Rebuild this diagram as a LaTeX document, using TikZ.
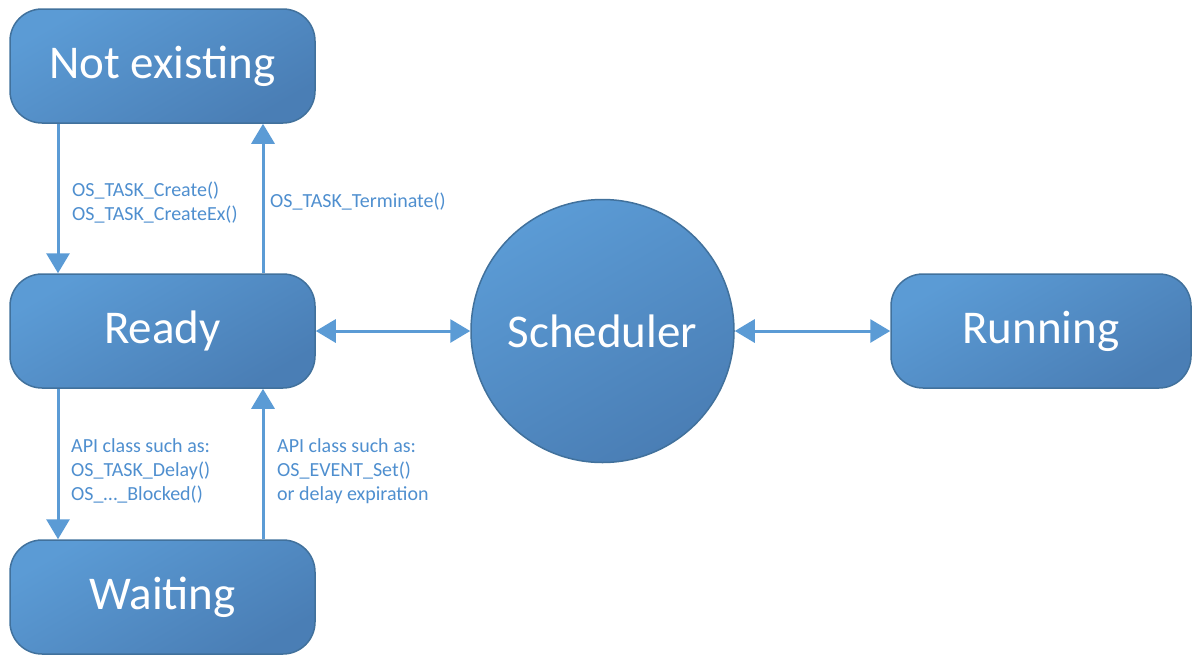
\documentclass[tikz,border=0pt]{standalone}
\usepackage{fontspec}
\setmainfont{Carlito}
\usetikzlibrary{arrows.meta}
\definecolor{boxtop}{HTML}{5B9BD5}
\definecolor{boxbot}{HTML}{4A7EB5}
\definecolor{boxline}{HTML}{41719C}
\definecolor{arrowblue}{HTML}{5B9BD5}
\definecolor{labelblue}{HTML}{4F8FCF}
\begin{document}
\begin{tikzpicture}[x=1pt,y=-1pt,
    state/.style={draw=boxline,line width=1.5pt,rounded corners=32pt,top color=boxtop,bottom color=boxbot,shading angle=30,
      minimum width=305pt,minimum height=114pt,text=white,font=\fontsize{47}{56}\selectfont},
    sched/.style={circle,draw=boxline,line width=1.5pt,top color=boxtop,bottom color=boxbot,shading angle=30,
      minimum size=263pt,inner sep=0pt,text=white,font=\fontsize{47}{56}\selectfont},
    trans/.style={line width=3pt,arrowblue,-{Triangle[width=23pt,length=20pt]}},
    twoway/.style={line width=3pt,arrowblue,{Triangle[width=23pt,length=20pt]}-{Triangle[width=23pt,length=20pt]}},
    lbl/.style={anchor=west,align=left,inner sep=0pt,text=labelblue,font=\fontsize{20}{24}\selectfont}]
  \useasboundingbox (0,0) rectangle (1192,654);
  \node[state] (notex) at (162.5,66) {Not existing};
  \node[state] (ready) at (162.5,331) {Ready};
  \node[state] (wait) at (162.5,597) {Waiting};
  \node[state,minimum width=300pt] (run) at (1041,331) {Running};
  \node[sched] (sch) at (602.5,331) {Scheduler};
  \draw[trans] ([xshift=-104.5pt]notex.south) -- ([xshift=-104.5pt]ready.north);
  \draw[trans] ([xshift=100.5pt]ready.north) -- ([xshift=100.5pt]notex.south);
  \draw[trans] ([xshift=-104.5pt]ready.south) -- ([xshift=-104.5pt]wait.north);
  \draw[trans] ([xshift=100.5pt]wait.north) -- ([xshift=100.5pt]ready.south);
  \draw[twoway] (ready.east) -- (sch.west);
  \draw[twoway] (sch.east) -- (run.west);
  \node[lbl] (create) at (72,203) {OS\_TASK\_Create()\\OS\_TASK\_CreateEx()};
  \node[lbl] (term) at (270,202) {OS\_TASK\_Terminate()};
  \node[lbl] (block) at (71,471) {API class such as:\\OS\_TASK\_Delay()\\OS\_…\_Blocked()};
  \node[lbl] (wake) at (277,471) {API class such as:\\OS\_EVENT\_Set()\\or delay expiration};
\end{tikzpicture}
\end{document}
